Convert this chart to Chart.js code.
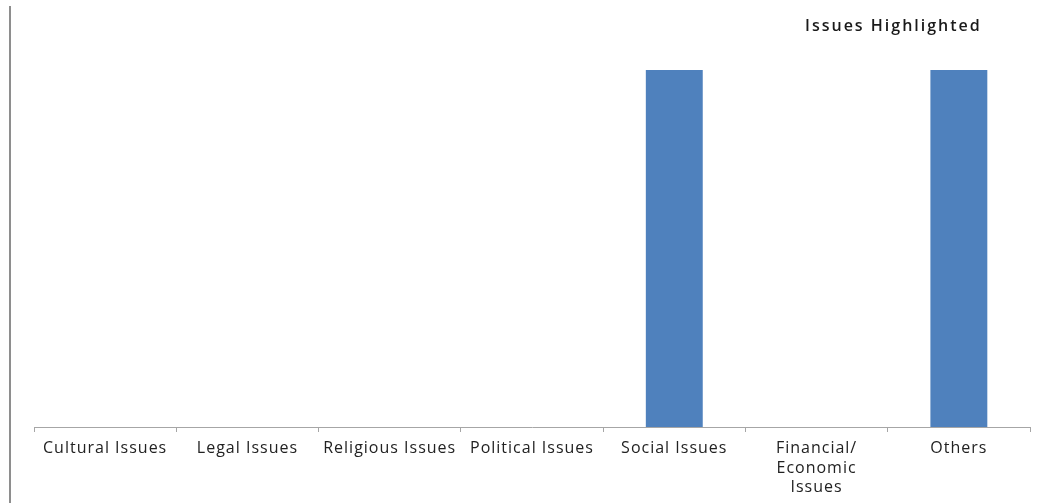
<!DOCTYPE html>
<html>
<head>
<meta charset="utf-8">
<script src="https://cdn.jsdelivr.net/npm/chart.js@4"></script>
<style>
  html, body { margin: 0; padding: 0; background: #fff; }
  #wrap { position: relative; width: 1047px; height: 503px; }
  #edge { position: absolute; left: 9px; top: 6px; width: 2px; height: 497px; background: #8e8e8e; }
</style>
</head>
<body>
<div id="wrap">
  <canvas id="myChart" width="1047" height="503"></canvas>
  <div id="edge"></div>
</div>
<script>
const categories = [
  'Cultural Issues',
  'Legal Issues',
  'Religious Issues',
  'Political Issues',
  'Social Issues',
  ['Financial/', 'Economic', 'Issues'],
  'Others',
];
const counts = [0, 0, 0, 0, 1, 0, 1];
const chartTitle = 'Issues Highlighted';

// the original text is a bit wide, so space the letters out
const spacingPlugin = {
  id: 'spacing',
  beforeDraw(chart) {
    chart.ctx.letterSpacing = '1px';
  }
};

// title sits off to the right like the original sheet
const titlePlugin = {
  id: 'sideTitle',
  afterDraw(chart) {
    const ctx = chart.ctx;
    ctx.save();
    ctx.letterSpacing = '2px';
    ctx.font = '600 16px "Open Sans"';
    ctx.fillStyle = '#1a1a1a';
    ctx.textBaseline = 'middle';
    ctx.fillText(chartTitle, 805, 26);
    ctx.restore();
  }
};

const config = {
  type: 'bar',
  data: {
    labels: categories,
    datasets: [{
      label: chartTitle,
      backgroundColor: '#4f81bd',
      data: counts,
      barPercentage: 0.4,
      categoryPercentage: 1,
    }]
  },
  options: {
    responsive: false,
    animation: false,
    layout: { padding: { left: 34, right: 17, top: 70, bottom: 0 } },
    plugins: { legend: { display: false }, tooltip: { enabled: false } },
    scales: {
      x: {
        grid: { drawOnChartArea: false, tickLength: 5, color: '#a6a6a6', offset: true },
        border: { color: '#a6a6a6', width: 1 },
        ticks: { color: '#222222', font: { family: 'Open Sans', size: 16, lineHeight: 1.22 }, padding: 7, maxRotation: 0, autoSkip: false },
        afterFit(scale) { scale.height = 76; }
      },
      y: { display: false, min: 0, max: 1 }
    }
  },
  plugins: [spacingPlugin, titlePlugin]
};

var myChart = new Chart(document.getElementById('myChart'), config);
</script>
</body>
</html>
